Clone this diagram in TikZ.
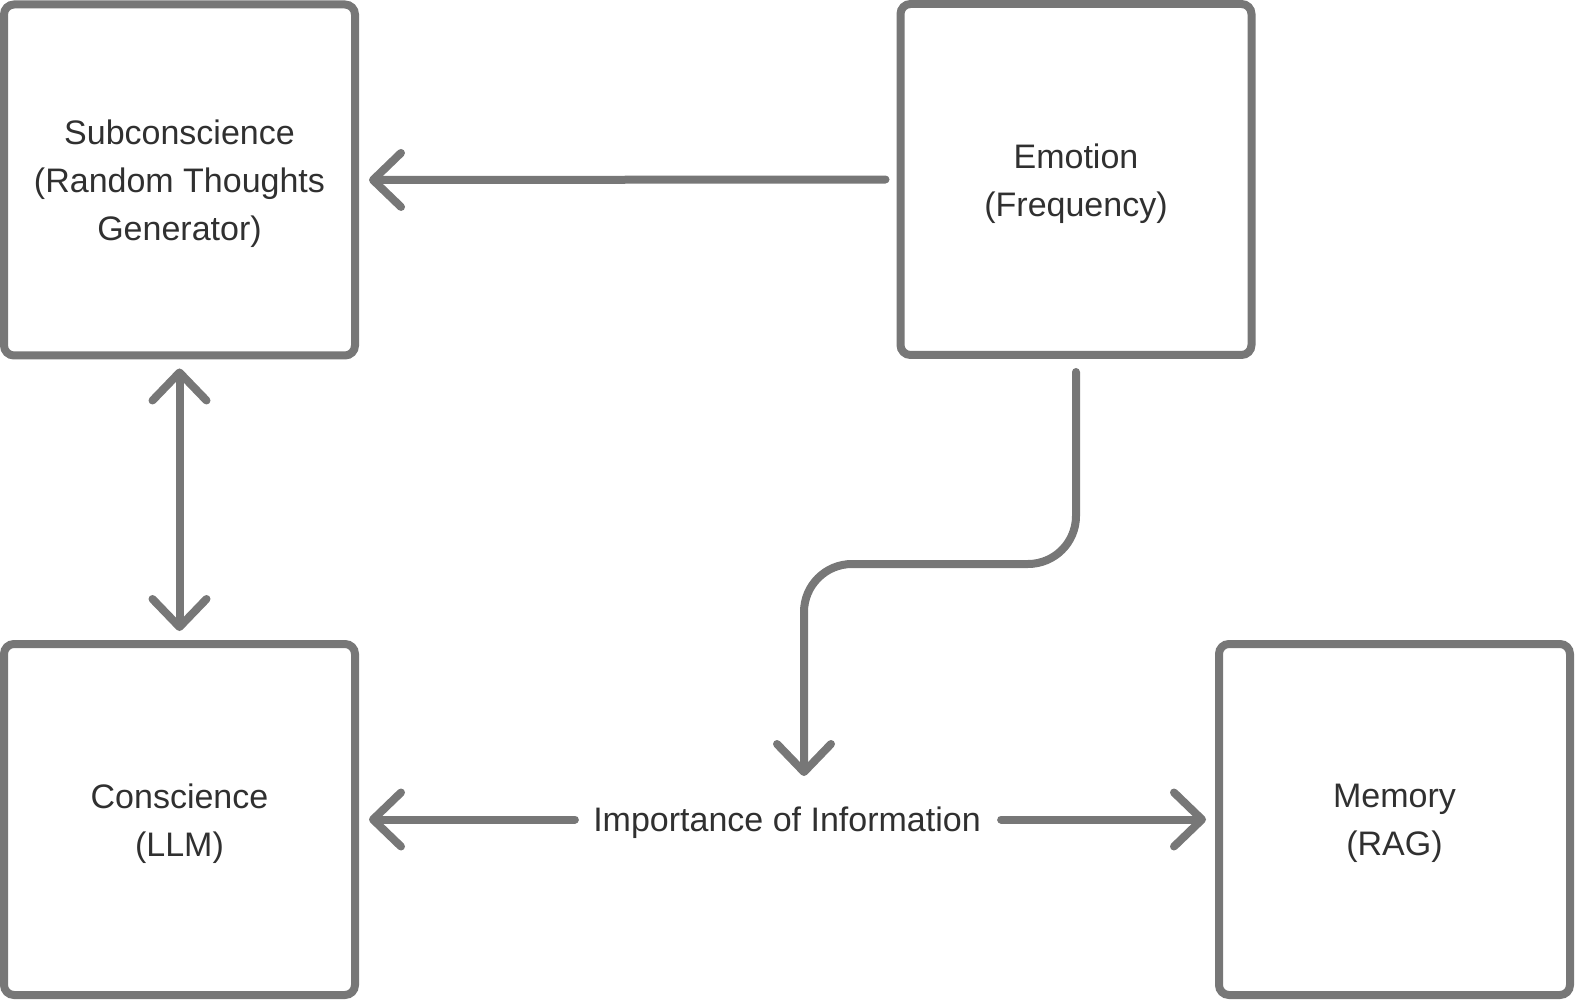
\documentclass[tikz,border=0pt]{standalone}
\usepackage{fontspec}
\setmainfont{Liberation Sans}
\usetikzlibrary{arrows.meta}
\definecolor{linec}{HTML}{777777}
\definecolor{textc}{HTML}{303030}
\begin{document}
\begin{tikzpicture}[x=0.5pt,y=-0.5pt,
  txt/.style={text=textc, font=\fontsize{17}{24}\selectfont},
  box/.style={draw=linec, line width=4pt, rounded corners=5pt,
    minimum width=175.5pt, minimum height=175.5pt, inner sep=0pt},
  boxtext/.style={txt, align=center, inner sep=0pt},
  tipb/.tip={Straight Barb[length=14pt,width=27pt,round]},
  arr/.style={draw=linec, line width=4pt, line cap=round, line join=round, -tipb},
  darr/.style={arr, tipb-tipb},
  lbl/.style={txt, inner sep=0pt}]
\useasboundingbox (0,0) rectangle (1576,1000);
\node[box] (sub) at (179.5,180) {};
\node[box] (emo) at (1076,179.5) {};
\node[box] (con) at (179.5,819.5) {};
\node[box] (mem) at (1394.5,819.5) {};
\node[boxtext] (subT) at ([yshift=-2pt]sub.center) {Subconscience\\(Random Thoughts\\Generator)};
\node[boxtext] (emoT) at ([yshift=-2pt]emo.center) {Emotion\\(Frequency)};
\node[boxtext] (conT) at ([yshift=-2pt]con.center) {Conscience\\(LLM)};
\node[boxtext] (memT) at ([yshift=-2pt]mem.center) {Memory\\(RAG)};
\node[lbl] (imp) at (787,823) {Importance of Information};
\coordinate (bend) at (804,564);
\coordinate (tipE) at (804,776);
\draw[arr, shorten <=5.5pt, shorten >=5pt] (emo.west) -- (sub.east);
\draw[darr, shorten <=4.5pt, shorten >=4.5pt] (sub.south) -- (con.north);
\draw[arr, rounded corners=24pt, shorten <=6.5pt] (emo.south) |- (bend) -- (tipE);
\draw[arr, shorten >=5pt] ([xshift=-9pt]imp.west |- con.east) -- (con.east);
\draw[arr, shorten >=4.5pt] ([xshift=10pt]imp.east |- mem.west) -- (mem.west);
\end{tikzpicture}
\end{document}
